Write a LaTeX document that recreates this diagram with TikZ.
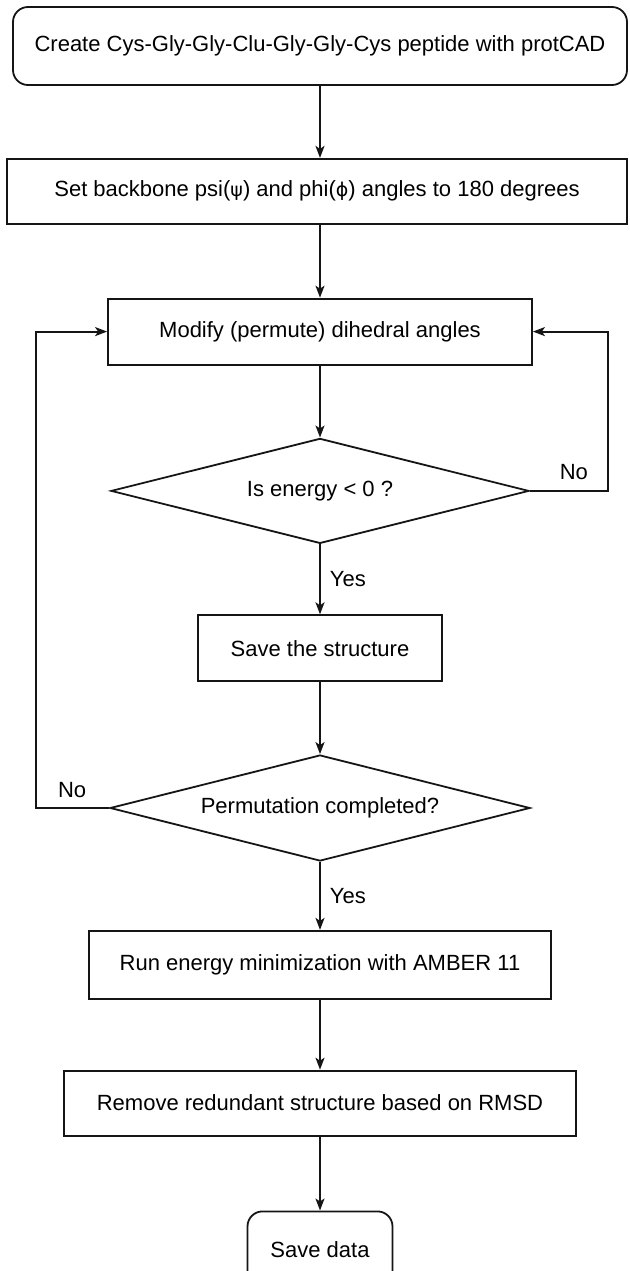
\documentclass[tikz,border=0pt]{standalone}
\usepackage{fontspec}
\setmainfont{Liberation Sans}
\newfontfamily\greekfont{DejaVu Sans}
\usepackage{tikz}
\usetikzlibrary{arrows.meta,positioning,shapes.geometric}
\definecolor{ink}{HTML}{151515}
\newcommand{\grk}[1]{{\greekfont\fontsize{19}{22}\selectfont #1}}
\tikzset{
  flow chart/.style={
    font=\fontsize{22}{26}\selectfont,
    >={Stealth[length=12pt,width=9pt,inset=3pt]}
  },
  stepbox/.style={
    draw=ink,
    rectangle,
    line width=1.8pt,
    align=center,
    inner sep=0pt
  },
  termbox/.style={
    stepbox,
    rounded corners=15pt
  },
  checkbox/.style={
    draw=ink,
    diamond,
    aspect=4,
    line width=1.8pt,
    align=center,
    inner sep=0pt
  },
  flowarrow/.style={
    ->,
    draw=ink,
    line width=1.8pt
  },
  flowlabel/.style={
    inner sep=0pt
  }
}

\begin{document}
\begin{tikzpicture}[flow chart, x=1pt, y=-1pt]
\useasboundingbox (0,0) rectangle (629,1271);
\node[termbox, minimum width=614pt, minimum height=78pt] (create) at (320,46) {Create Cys-Gly-Gly-Clu-Gly-Gly-Cys peptide with protCAD};
\node[stepbox, below=72pt of create, xshift=-3pt, minimum width=620pt, minimum height=65pt] (backbone) {Set backbone psi(\grk{ψ}) and phi(\grk{ϕ}) angles to 180 degrees};
\node[stepbox, below=73pt of create.south |- backbone.south, minimum width=424pt, minimum height=66pt] (modify) {Modify (permute) dihedral angles};
\node[checkbox, below=72pt of modify, minimum width=418pt, minimum height=105pt] (energy) {Is energy < 0 ?};
\node[stepbox, below=70pt of energy, minimum width=244pt, minimum height=66pt] (save) {Save the structure};
\node[checkbox, below=72pt of save, minimum width=420pt, minimum height=106pt] (perm) {Permutation completed?};
\node[stepbox, below=68pt of perm, minimum width=462pt, minimum height=68pt] (amber) {Run energy minimization with AMBER 11};
\node[stepbox, below=70pt of amber, minimum width=512pt, minimum height=65pt] (rmsd) {Remove redundant structure based on RMSD};
\node[termbox, below=74pt of rmsd, minimum width=145pt, minimum height=76pt] (data) {Save data};

\coordinate (eloop) at ([xshift=78pt]energy.east);
\coordinate (ploop) at ([xshift=-73pt]perm.west);

\draw[flowarrow] (create) -- (create.south |- backbone.north);
\draw[flowarrow] (create.south |- backbone.south) -- (modify);
\draw[flowarrow] (modify) -- (energy);
\draw[flowarrow] (energy) -- node[flowlabel, right=9pt]{Yes} (save);
\draw[flowarrow] (save) -- (perm);
\draw[flowarrow] (perm) -- node[flowlabel, right=9pt]{Yes} (amber);
\draw[flowarrow] (amber) -- (rmsd);
\draw[flowarrow] (rmsd) -- (data);
\draw[flowarrow] (energy.east) -- (eloop) |- (modify.east);
\draw[flowarrow] (perm.west) -- (ploop) |- (modify.west);
\node[flowlabel] (energyno) at ([xshift=-34pt,yshift=19pt]eloop) {No};
\node[flowlabel] (permno) at ([xshift=36pt,yshift=18pt]ploop) {No};
\end{tikzpicture}
\end{document}
